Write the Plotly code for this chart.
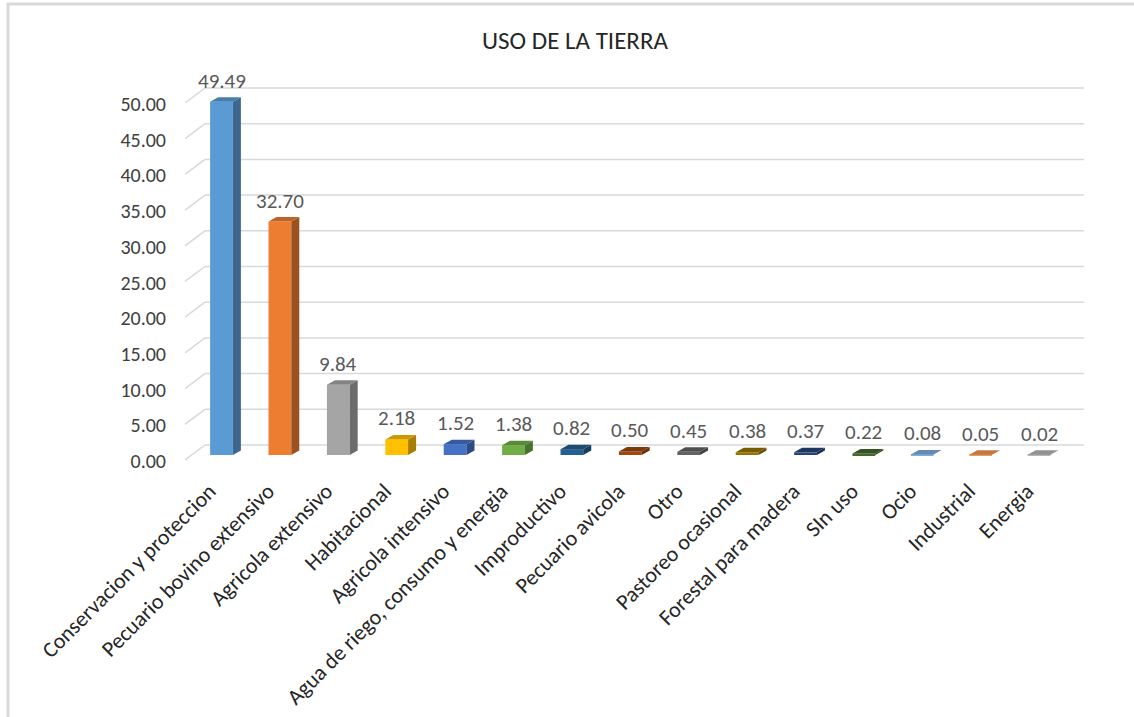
import plotly.graph_objects as go

# ---------------- data ----------------
categories = [
    "Conservacion y proteccion", "Pecuario bovino extensivo", "Agricola extensivo",
    "Habitacional", "Agricola intensivo", "Agua de riego, consumo y energia",
    "Improductivo", "Pecuario avicola", "Otro", "Pastoreo ocasional",
    "Forestal para madera", "SIn uso", "Ocio", "Industrial", "Energia",
]
values = [49.49, 32.70, 9.84, 2.18, 1.52, 1.38, 0.82, 0.50, 0.45, 0.38, 0.37, 0.22, 0.08, 0.05, 0.02]
y_ticks = [0, 5, 10, 15, 20, 25, 30, 35, 40, 45, 50]
y_ticktext = [f"{v:.2f}" for v in y_ticks]
title_text = "USO DE LA TIERRA"

# ---------------- style ----------------
front_colors = [
    "#5B9BD5", "#ED7D31", "#A5A5A5", "#FFC000", "#4472C4", "#70AD47",
    "#255E91", "#9E480E", "#636363", "#997300", "#264478", "#43682B",
    "#7CAFDD", "#F1975A", "#B7B7B7",
]
FONT = "Calibri, Carlito, Lato, sans-serif"
GRID = "#d9d9d9"


def shade(hex_color, f):
    h = hex_color.lstrip("#")
    r, g, b = (int(h[i:i + 2], 16) for i in (0, 2, 4))
    return "#%02x%02x%02x" % (int(r * f), int(g * f), int(b * f))


# geometry (in axis units)
X_RANGE = [-0.625, 14.769]
Y_RANGE = [-2.10, 52.52]
HALF_W = 0.195          # half width of bar front face
BAR_DX, BAR_DY = 0.137, 0.63     # bar depth offset
FRONT_DX, FRONT_DY = X_RANGE[0], -0.70   # front plane (axis labels)
BACK_DX, BACK_DY = -0.283, 1.40          # back wall

L, R, T, B = 185, 50, 80, 247
W, H = 1134, 717

fig = go.Figure()

# front faces of bars
idx = list(range(len(categories)))
fig.add_trace(go.Bar(
    x=idx, y=values, width=2 * HALF_W,
    marker=dict(color=front_colors, line=dict(width=0)),
    hoverinfo="skip", showlegend=False,
))

# side and top faces
for i, v in enumerate(values):
    c = front_colors[i]
    xs = [i + HALF_W, i + HALF_W + BAR_DX, i + HALF_W + BAR_DX, i + HALF_W, i + HALF_W]
    ys = [0, BAR_DY, v + BAR_DY, v, 0]
    fig.add_trace(go.Scatter(x=xs, y=ys, mode="lines", fill="toself",
                             fillcolor=shade(c, 0.66), line=dict(width=0, color=shade(c, 0.66)),
                             hoverinfo="skip", showlegend=False))
    xt = [i - HALF_W, i + HALF_W, i + HALF_W + BAR_DX, i - HALF_W + BAR_DX, i - HALF_W]
    yt = [v, v, v + BAR_DY, v + BAR_DY, v]
    fig.add_trace(go.Scatter(x=xt, y=yt, mode="lines", fill="toself",
                             fillcolor=shade(c, 0.80), line=dict(width=0, color=shade(c, 0.80)),
                             hoverinfo="skip", showlegend=False))

# back-wall gridlines and side diagonals (below traces)
shapes = []
for v in y_ticks:
    shapes.append(dict(type="line", xref="x", yref="y", layer="below",
                       x0=BACK_DX, x1=X_RANGE[1], y0=v + BACK_DY, y1=v + BACK_DY,
                       line=dict(color=GRID, width=1.5)))
    shapes.append(dict(type="line", xref="x", yref="y", layer="below",
                       x0=FRONT_DX, x1=BACK_DX, y0=v + FRONT_DY, y1=v + BACK_DY,
                       line=dict(color=GRID, width=1.5)))

# outer picture border (top + left)
pw, ph = W - L - R, H - T - B
def px_x(p):
    return (p - L) / pw
def px_y(p):
    return (H - B - p) / ph
shapes.append(dict(type="line", xref="paper", yref="paper", layer="above",
                   x0=px_x(7), x1=px_x(W + 5), y0=px_y(4), y1=px_y(4),
                   line=dict(color="#d9d9d9", width=3)))
shapes.append(dict(type="line", xref="paper", yref="paper", layer="above",
                   x0=px_x(8), x1=px_x(8), y0=px_y(3), y1=px_y(H + 5),
                   line=dict(color="#d9d9d9", width=3)))

# data labels
annotations = []
for i, v in enumerate(values):
    annotations.append(dict(x=i, y=v, xref="x", yref="y", text=f"{v:.2f}",
                            showarrow=False, yshift=21, yanchor="middle",
                            font=dict(family=FONT, size=21, color="#595959")))

fig.update_layout(
    width=W, height=H,
    margin=dict(l=L, r=R, t=T, b=B, pad=0),
    paper_bgcolor="white", plot_bgcolor="white",
    title=dict(text=title_text, x=575 / W, xref="container", xanchor="center",
               y=1 - 40 / H, yref="container", yanchor="middle",
               font=dict(family=FONT, size=25, color="#262626")),
    shapes=shapes, annotations=annotations,
    showlegend=False,
    xaxis=dict(range=X_RANGE, tickmode="array", tickvals=idx, ticktext=categories,
               tickangle=-45, showgrid=False, zeroline=False, showline=False,
               automargin=False,
               ticks="", ticklabelstandoff=3, ticklabelshift=-12,
               tickfont=dict(family=FONT, size=22, color="#262626")),
    yaxis=dict(range=Y_RANGE, tickmode="array", tickvals=y_ticks, ticktext=y_ticktext,
               showgrid=False, zeroline=False, showline=False, ticks="",
               automargin=False,
               ticklabelshift=6, ticklabelstandoff=18,
               tickfont=dict(family=FONT, size=20, color="#404040")),
)

fig.write_html("out.html", config={"displayModeBar": False},
               post_script="document.body.style.margin='0';")
